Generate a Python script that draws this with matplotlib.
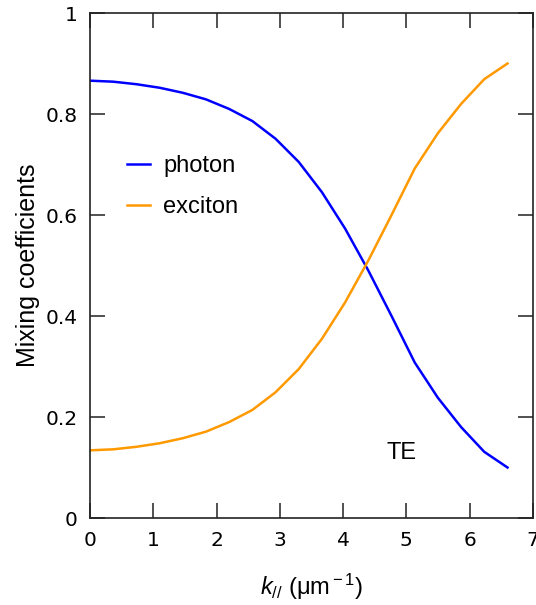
import matplotlib.pyplot as plt

plt.rcParams['font.family'] = ['Liberation Sans', 'DejaVu Sans']
plt.rcParams['mathtext.fontset'] = 'custom'
plt.rcParams['mathtext.rm'] = 'Liberation Sans'
plt.rcParams['mathtext.it'] = 'Liberation Sans:italic'

# wavevector (um^-1) and mixing coefficients
k = [0, 0.367, 0.733, 1.1, 1.467, 1.833, 2.2, 2.567, 2.933, 3.3,
     3.667, 4.033, 4.4, 4.767, 5.133, 5.5, 5.867, 6.233, 6.6]
photon = [0.866, 0.864, 0.859, 0.852, 0.842, 0.829, 0.810, 0.786, 0.751, 0.705,
          0.645, 0.573, 0.490, 0.400, 0.308, 0.238, 0.180, 0.131, 0.100]
exciton = [1 - p for p in photon]

xticks = [0, 1, 2, 3, 4, 5, 6, 7]
yticks = [0, 0.2, 0.4, 0.6, 0.8, 1]
ytick_labels = ['0', '0.2', '0.4', '0.6', '0.8', '1']

fig = plt.figure(figsize=(5.36, 6.05), dpi=100)
ax = fig.add_axes([0.168, 0.1438, 0.826, 0.8347])

ax.plot(k, photon, color='#0000ff', lw=1.8, label='photon')
ax.plot(k, exciton, color='#ff9900', lw=1.8, label='exciton')

ax.set_xlim(0, 7)
ax.set_ylim(0, 1)
ax.set_xticks(xticks)
ax.set_yticks(yticks)
ax.set_xticklabels([str(t) for t in xticks], family='DejaVu Sans')
ax.set_yticklabels(ytick_labels, family='DejaVu Sans')
ax.tick_params(direction='in', length=11, width=1.1, labelsize=14.5,
               top=True, right=True, pad=9, colors='#222222', labelcolor='black')
for s in ax.spines.values():
    s.set_linewidth(1.2)
    s.set_color('#222222')

ax.set_xlabel(r'$k_{//}$ (μm$^{\rm -1}$)', fontsize=17, labelpad=16)
ax.set_ylabel('Mixing coefficients', fontsize=18, labelpad=4)

ax.text(4.92, 0.129, 'TE', fontsize=17, ha='center', va='center')

ax.legend(loc='upper left', bbox_to_anchor=(0.035, 0.76), frameon=False,
          fontsize=17, handlelength=1.0, handletextpad=0.55, labelspacing=0.8)

fig.savefig('out.png', dpi=100)
